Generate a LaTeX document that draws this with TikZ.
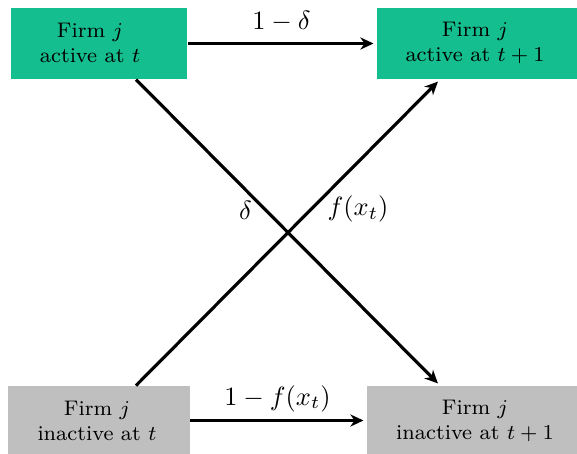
\documentclass[tikz,border=0pt]{standalone}
\usetikzlibrary{arrows.meta,calc}
\definecolor{boxgreen}{RGB}{21,190,142}
\definecolor{boxgray}{RGB}{191,191,191}
\tikzset{
  box/.style={inner sep=0pt, minimum height=26.9pt},
  greenbox/.style={box, fill=boxgreen},
  graybox/.style={box, fill=boxgray},
  boxtext/.style={align=center, font=\footnotesize, inner sep=0pt},
  arr/.style={line width=1.2pt, -{Stealth[length=5pt,width=4.6pt,inset=1.6pt]}, shorten >=1.1pt},
  lab/.style={anchor=base, inner sep=0pt}
}
\begin{document}
\begin{tikzpicture}[x=0.3788pt, y=-0.3788pt]
\useasboundingbox (0,0) rectangle (577,454);
% boxes
\node[greenbox, minimum width=66.7pt] (A) at (99,43.5) {};
\node[greenbox, minimum width=75.8pt] (B) at (477,43.5) {};
\node[graybox, minimum width=68.9pt, minimum height=26.1pt] (C) at (99,420.5) {};
\node[graybox, minimum width=79.6pt, minimum height=26.1pt] (D) at (472,420.5) {};
% texts
\node[boxtext] (At) at (90,42.5) {Firm $j$\\active at $t$};
\node[boxtext] (Bt) at (475,42.5) {Firm $j$\\active at $t+1$};
\node[boxtext] (Ct) at (97,420.5) {Firm $j$\\inactive at $t$};
\node[boxtext] (Dt) at (475,420.5) {Firm $j$\\inactive at $t+1$};
% connectors
\draw[arr] (A.east) -- (B.west);
\draw[arr] (C.east) -- (D.west);
\draw[arr] ($(A.south)+(37,0)$) -- ($(D.north)+(-32,0)$);
\draw[arr] ($(C.north)+(37,0)$) -- ($(B.south)+(-37,0)$);
% labels
\node[lab] (L1) at (281.5,29.3) {$1-\delta$};
\node[lab] (L2) at (277.5,405) {$1-f(x_t)$};
\node[lab] (L3) at (245.5,220) {$\delta$};
\node[lab] (L4) at (358,216) {$f(x_t)$};
\end{tikzpicture}
\end{document}
